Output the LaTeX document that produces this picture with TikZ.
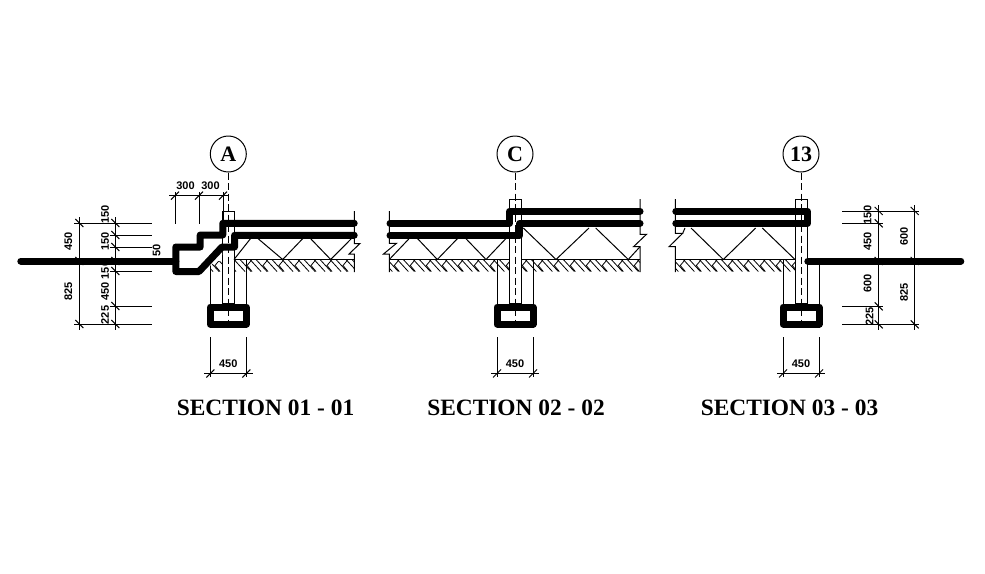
\documentclass[tikz,border=0pt]{standalone}
\usepackage{fontspec}
\setmainfont{Liberation Serif}
\setsansfont{Liberation Sans}
\usepackage{tikz}

\tikzset{
	thin line/.style={line width=1pt},
	beam/.style={line width=7pt, line cap=round, line join=round},
	axis line/.style={line width=1pt, dash pattern=on 7pt off 3.5pt},
	grid bubble/.style={draw, circle, line width=1pt, minimum size=36pt, inner sep=0pt, fill=white, font=\rmfamily\bfseries\fontsize{22}{22}\selectfont},
	dim label/.style={inner sep=0pt, font=\sffamily\bfseries\fontsize{11}{11}\selectfont},
	section title/.style={inner sep=0pt, font=\rmfamily\bfseries\fontsize{23.4}{25}\selectfont}
}

% tick across a dimension line
\newcommand{\dimtick}[2]{\draw[thin line] (#1-4,#2-4) -- (#1+4,#2+4);}
\newcommand{\htick}[2]{\draw[thin line] (#1-4,#2+4) -- (#1+4,#2-4);}
% ground hatch from x=#1 to x=#2
\newcommand{\groundhatch}[2]{
	\draw[thin line] (#1,259.5) -- (#2,259.5);
	\begin{scope}
		\clip (#1,259.5) rectangle (#2,272);
		\foreach \hx in {0,16,...,304} {
			\draw[line width=0.8pt] (#1-8+\hx,259.5) -- ++(11,12);
			\draw[line width=0.8pt] (#1-2+\hx,259.5) -- ++(11,12);
			\draw[line width=0.8pt] (#1+10+\hx,259.5) -- ++(-5,6) -- ++(5,6);
		}
	\end{scope}
}
% column, wall lines, footing and width dimension on axis x=#1
\newcommand{\footing}[1]{
	\draw[thin line] (#1-6,199.5) rectangle (#1+6,303);
	\draw[thin line] (#1-18,260) -- (#1-18,304);
	\draw[thin line] (#1+18,260) -- (#1+18,304);
	\draw[beam, line cap=butt] (#1-18,307) rectangle (#1+18,324);
	\draw[thin line] (#1-18,337) -- (#1-18,377);
	\draw[thin line] (#1+18,337) -- (#1+18,377);
	\draw[thin line] (#1-24,373.5) -- (#1+24,373.5);
	\htick{#1-18}{373.5}
	\htick{#1+18}{373.5}
	\node[dim label] (width#1) at (#1,364) {450};
}

\begin{document}
\begin{tikzpicture}[x=1pt, y=-1pt]
	\useasboundingbox (0,0) rectangle (985,573);

	% ---- section 01 ----
	\groundhatch{210}{354}
	\fill[white] (209,258) rectangle (222,260.5);
	\fill[white] (222.5,255) rectangle (234.5,273);
	\draw[thin line] (222.7,211) rectangle (234.3,303);
	\draw[thin line] (210.3,260) -- (210.3,304);
	\draw[thin line] (246.3,260) -- (246.3,304);
	\draw[beam, line cap=butt] (210.3,307) rectangle (246.3,324);
	\draw[thin line] (210.3,337) -- (210.3,377);
	\draw[thin line] (246.3,337) -- (246.3,377);
	\draw[thin line] (204,373.5) -- (252.5,373.5);
	\htick{210.3}{373.5}
	\htick{246.3}{373.5}
	\node[dim label] (widthA) at (228.3,364) {450};
	\draw[thin line] (354.3,211) -- (354.3,243.5) -- (360,243.5) -- (349,254) -- (354.3,254) -- (354.3,272);
	\draw[thin line] (234,259.5) -- (251,238) (257.3,238) -- (282.7,259.5) -- (303.3,238) (310,238) -- (330.7,259.5) -- (352,238);
	\fill[white] (176,250) -- (222,250) -- (222,255) -- (200,275) -- (176,275) -- cycle;
	\draw[beam] (354.2,223.3) -- (222.8,223.3) -- (222.8,235) -- (200.2,235) -- (200.2,247) -- (175.8,247) -- (175.8,271.5) -- (199,271.5) -- (222,247) -- (234.6,247) -- (234.6,235.3) -- (354.2,235.3);
	\draw[beam] (20.8,261) -- (175.8,261);
	\node[grid bubble] (bubbleA) at (228.3,154) {A};
	\draw[axis line] (bubbleA.south) -- (228.3,320);

	% top dimensions
	\draw[thin line] (169,195.7) -- (228,195.7);
	\foreach \dx in {175,199,223} {
		\draw[thin line] (\dx,192) -- (\dx,224);
		\htick{\dx}{195.7}
	}
	\node[dim label] (topa) at (185.5,186) {300};
	\node[dim label] (topb) at (210.5,186) {300};

	% left dimensions
	\draw[thin line] (79.3,217) -- (79.3,330);
	\draw[thin line] (115.3,217) -- (115.3,330);
	\draw[thin line] (74,223) -- (152,223);
	\draw[thin line] (110,235) -- (152,235);
	\draw[thin line] (110,247) -- (152,247);
	\draw[thin line] (110,271) -- (152,271);
	\draw[thin line] (110,306) -- (152,306);
	\draw[thin line] (74,324) -- (152,324);
	\foreach \dy in {223,261,324} {\dimtick{79.3}{\dy}}
	\foreach \dy in {223,235,247,261,271,306,324} {\dimtick{115.3}{\dy}}
	\node[dim label, rotate=90] (la) at (105,214.5) {150};
	\node[dim label, rotate=90] (lb) at (105,241.7) {150};
	\node[dim label, rotate=90] (lc) at (105,270) {150};
	\node[dim label, rotate=90] (ld) at (105,291.7) {450};
	\node[dim label, rotate=90] (le) at (105,315) {225};
	\node[dim label, rotate=90] (lf) at (68.3,241.7) {450};
	\node[dim label, rotate=90] (lg) at (68.3,291.7) {825};
	\node[dim label, rotate=90] (lh) at (156.7,250.7) {50};

	% ---- section 02 ----
	\groundhatch{389.3}{640}
	\fill[white] (509.5,255) rectangle (520.5,273);
	\footing{515}
	\draw[thin line] (389.3,211) -- (389.3,243.3) -- (396.5,243.3) -- (383.5,254) -- (389.3,254) -- (389.3,272);
	\draw[thin line] (640,199) -- (640,234.3) -- (646.5,234.3) -- (633.5,246.7) -- (640,246.7) -- (640,272);
	\draw[thin line] (389.3,259.5) -- (410,237.7) (416.7,237.7) -- (437.3,259.5) -- (458.3,237.7) (465,237.7) -- (486,259.5) -- (506.7,237.7);
	\draw[thin line] (523.3,228) -- (556,259.5) -- (589,228) (595.7,228) -- (628.3,259.5) -- (640,246.7);
	\draw[beam] (640,211.3) -- (509.5,211.3) -- (509.5,223.3) -- (390,223.3);
	\draw[beam] (640,223.3) -- (519.8,223.3) -- (519.8,235.3) -- (390,235.3);
	\node[grid bubble] (bubbleC) at (515,154) {C};
	\draw[axis line] (bubbleC.south) -- (515,320);

	% ---- section 03 ----
	\groundhatch{675.3}{795.5}
	\fill[white] (795.5,255) rectangle (807.5,273);
	\footing{801}
	\draw[thin line] (675.3,199) -- (675.3,233.3) -- (682.7,233.3) -- (669,246.7) -- (675.3,246.7) -- (675.3,272);
	\draw[thin line] (682.7,233.3) -- (685,228) (691,228) -- (723.3,259.5) -- (755.7,228) (762.3,228) -- (795,259.5);
	\draw[beam] (675.8,211.3) -- (807.5,211.3) -- (807.5,223.3) -- (675.8,223.3);
	\draw[beam] (807.8,261) -- (960.8,261);
	\node[grid bubble] (bubbleD) at (801,154) {13};
	\draw[axis line] (bubbleD.south) -- (801,320);

	% right dimensions
	\draw[thin line] (878.7,205) -- (878.7,330);
	\draw[thin line] (914.7,205) -- (914.7,330);
	\draw[thin line] (842,211) -- (919,211);
	\draw[thin line] (842,223.3) -- (883.3,223.3);
	\draw[thin line] (842,306.3) -- (883.3,306.3);
	\draw[thin line] (842,324.3) -- (919,324.3);
	\foreach \dy in {211,223.3,261,306.3,324.3} {\dimtick{878.7}{\dy}}
	\foreach \dy in {211,261,324.3} {\dimtick{914.7}{\dy}}
	\node[dim label, rotate=90] (ra) at (867.7,215) {150};
	\node[dim label, rotate=90] (rb) at (867.7,241.7) {450};
	\node[dim label, rotate=90] (rc) at (867.7,283.3) {600};
	\node[dim label, rotate=90] (rd) at (869.7,316.7) {225};
	\node[dim label, rotate=90] (re) at (904,236.7) {600};
	\node[dim label, rotate=90] (rf) at (904,292.3) {825};

	% titles
	\node[section title] (titlea) at (265.5,408) {SECTION 01 - 01};
	\node[section title] (titleb) at (516,408) {SECTION 02 - 02};
	\node[section title] (titlec) at (789.5,408) {SECTION 03 - 03};
\end{tikzpicture}
\end{document}
